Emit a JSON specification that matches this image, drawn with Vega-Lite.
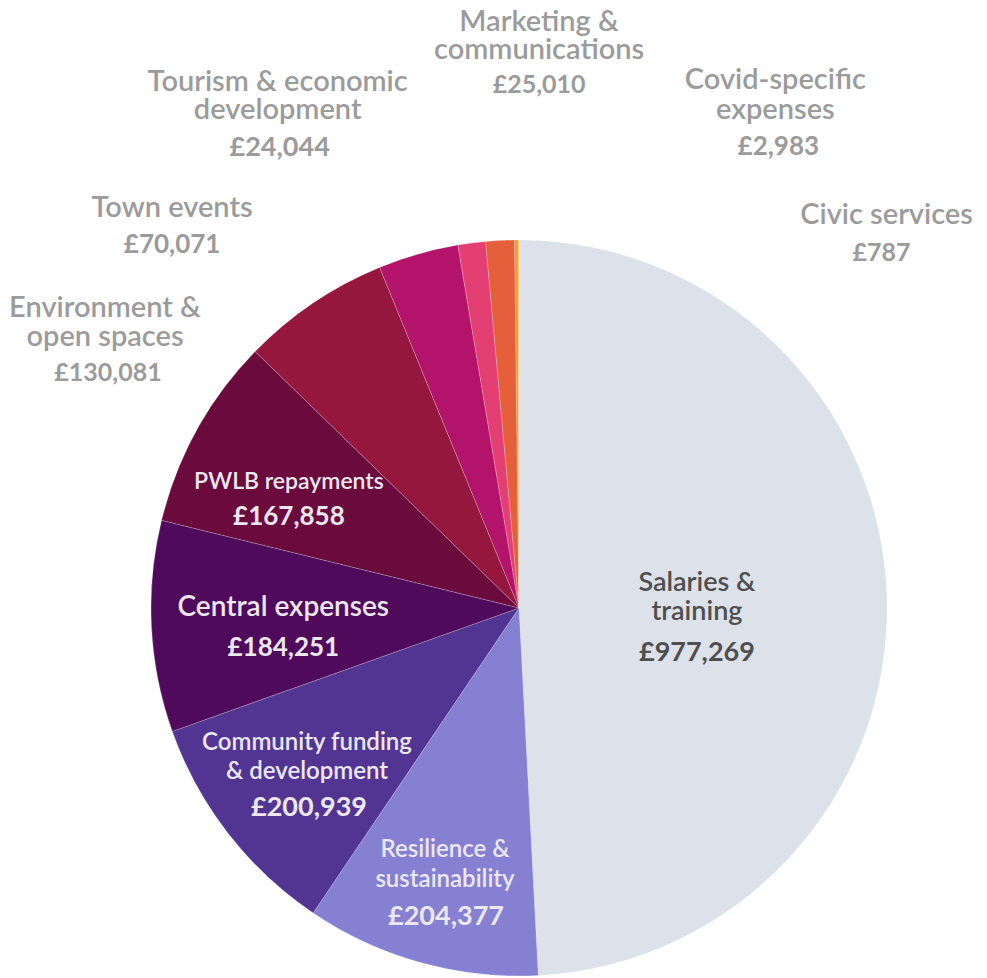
{
  "$schema": "https://vega.github.io/schema/vega-lite/v6.json",
  "autosize": {"type": "none"},
  "width": 934,
  "height": 740,
  "padding": {"left": 52, "top": 238, "right": 1, "bottom": 0},
  "background": "#ffffff",
  "config": {
    "view": {"stroke": null},
    "locale": {"number": {"decimal": ".", "thousands": ",", "grouping": [3], "currency": ["£", ""]}},
    "text": {"font": "Lato", "align": "center", "baseline": "middle"}
  },
  "data": {"values": [
    {"i": 1, "cat": "Salaries & training", "name": ["Salaries &", "training"], "value": 977269},
    {"i": 2, "cat": "Resilience & sustainability", "name": ["Resilience &", "sustainability"], "value": 204377},
    {"i": 3, "cat": "Community funding & development", "name": ["Community funding", "& development"], "value": 200939},
    {"i": 4, "cat": "Central expenses", "name": ["Central expenses"], "value": 184251},
    {"i": 5, "cat": "PWLB repayments", "name": ["PWLB repayments"], "value": 167858},
    {"i": 6, "cat": "Environment & open spaces", "name": ["Environment &", "open spaces"], "value": 130081},
    {"i": 7, "cat": "Town events", "name": ["Town events"], "value": 70071},
    {"i": 8, "cat": "Tourism & economic development", "name": ["Tourism & economic", "development"], "value": 24044},
    {"i": 9, "cat": "Marketing & communications", "name": ["Marketing &", "communications"], "value": 25010},
    {"i": 10, "cat": "Covid-specific expenses", "name": ["Covid-specific", "expenses"], "value": 2983},
    {"i": 11, "cat": "Civic services", "name": ["Civic services"], "value": 787}
  ]},
  "encoding": {
    "theta": {"field": "value", "type": "quantitative", "stack": true},
    "order": {"field": "i", "type": "quantitative"},
    "detail": {"field": "cat", "type": "nominal"}
  },
  "layer": [
    {"mark": {"type": "arc", "outerRadius": 368, "stroke": "#ffffff", "strokeWidth": 0.4, "strokeOpacity": 0.5},
     "encoding": {"color": {"field": "cat", "type": "nominal", "legend": null,
       "scale": {"domain": ["Salaries & training", "Resilience & sustainability", "Community funding & development", "Central expenses", "PWLB repayments", "Environment & open spaces", "Town events", "Tourism & economic development", "Marketing & communications", "Covid-specific expenses", "Civic services"],
                 "range": ["#DCE1EA", "#8580D2", "#523492", "#500A5C", "#6B0A3C", "#95173D", "#B3136A", "#E33F72", "#E5603A", "#EC9A38", "#F3B33D"]}}}},

    {"mark": {"type": "text", "radius": 178, "dy": -20, "fontSize": 27, "fontWeight": 600, "lineHeight": 29, "color": "#4f4f4f"},
     "encoding": {"text": {"condition": {"test": "datum.i === 1", "field": "name", "type": "nominal"}, "value": ""}}},
    {"mark": {"type": "text", "radius": 178, "dy": 50, "fontSize": 27, "fontWeight": "bold", "color": "#4f4f4f"},
     "encoding": {"text": {"condition": {"test": "datum.i === 1", "field": "value", "type": "quantitative", "format": "$,"}, "value": ""}}},

    {"mark": {"type": "text", "radius": 273, "dx": -1, "dy": -21, "fontSize": 24, "fontWeight": 600, "lineHeight": 30, "color": "#ECE8F2"},
     "encoding": {"text": {"condition": {"test": "datum.i === 2", "field": "name", "type": "nominal"}, "value": ""}}},
    {"mark": {"type": "text", "radius": 273, "dy": 46, "fontSize": 27, "fontWeight": "bold", "color": "#ECE8F2"},
     "encoding": {"text": {"condition": {"test": "datum.i === 2", "field": "value", "type": "quantitative", "format": "$,"}, "value": ""}}},

    {"mark": {"type": "text", "radius": 267, "dx": -1, "dy": -29, "fontSize": 24, "fontWeight": 600, "lineHeight": 29, "color": "#ECE8F2"},
     "encoding": {"text": {"condition": {"test": "datum.i === 3", "field": "name", "type": "nominal"}, "value": ""}}},
    {"mark": {"type": "text", "radius": 267, "dx": 1, "dy": 36, "fontSize": 27, "fontWeight": "bold", "color": "#ECE8F2"},
     "encoding": {"text": {"condition": {"test": "datum.i === 3", "field": "value", "type": "quantitative", "format": "$,"}, "value": ""}}},

    {"mark": {"type": "text", "radius": 236, "dy": -12, "fontSize": 28, "fontWeight": 600, "color": "#ECE8F2"},
     "encoding": {"text": {"condition": {"test": "datum.i === 4", "field": "name", "type": "nominal"}, "value": ""}}},
    {"mark": {"type": "text", "radius": 236, "dy": 28, "fontSize": 26, "fontWeight": "bold", "color": "#ECE8F2"},
     "encoding": {"text": {"condition": {"test": "datum.i === 4", "field": "value", "type": "quantitative", "format": "$,"}, "value": ""}}},

    {"mark": {"type": "text", "radius": 263, "dy": 1, "fontSize": 23, "fontWeight": 600, "color": "#ECE8F2"},
     "encoding": {"text": {"condition": {"test": "datum.i === 5", "field": "name", "type": "nominal"}, "value": ""}}},
    {"mark": {"type": "text", "radius": 263, "dy": 36, "fontSize": 26, "fontWeight": "bold", "color": "#ECE8F2"},
     "encoding": {"text": {"condition": {"test": "datum.i === 5", "field": "value", "type": "quantitative", "format": "$,"}, "value": ""}}},

    {"mark": {"type": "text", "radius": 368, "dx": -208, "dy": 5, "fontSize": 29, "fontWeight": 600, "lineHeight": 29, "color": "#9B9B9B"},
     "encoding": {"text": {"condition": {"test": "datum.i === 6", "field": "name", "type": "nominal"}, "value": ""}}},
    {"mark": {"type": "text", "radius": 368, "dx": -205, "dy": 70, "fontSize": 25, "fontWeight": "bold", "color": "#9B9B9B"},
     "encoding": {"text": {"condition": {"test": "datum.i === 6", "field": "value", "type": "quantitative", "format": "$,"}, "value": ""}}},

    {"mark": {"type": "text", "radius": 368, "dx": -246, "dy": -46, "fontSize": 29, "fontWeight": 600, "color": "#9B9B9B"},
     "encoding": {"text": {"condition": {"test": "datum.i === 7", "field": "name", "type": "nominal"}, "value": ""}}},
    {"mark": {"type": "text", "radius": 368, "dx": -246, "dy": -9, "fontSize": 26, "fontWeight": "bold", "color": "#9B9B9B"},
     "encoding": {"text": {"condition": {"test": "datum.i === 7", "field": "value", "type": "quantitative", "format": "$,"}, "value": ""}}},

    {"mark": {"type": "text", "radius": 368, "dx": -194, "dy": -161, "fontSize": 29, "fontWeight": 600, "lineHeight": 28, "color": "#9B9B9B"},
     "encoding": {"text": {"condition": {"test": "datum.i === 8", "field": "name", "type": "nominal"}, "value": ""}}},
    {"mark": {"type": "text", "radius": 368, "dx": -192, "dy": -95, "fontSize": 27, "fontWeight": "bold", "color": "#9B9B9B"},
     "encoding": {"text": {"condition": {"test": "datum.i === 8", "field": "value", "type": "quantitative", "format": "$,"}, "value": ""}}},

    {"mark": {"type": "text", "radius": 368, "dx": 39, "dy": -218, "fontSize": 29, "fontWeight": 600, "lineHeight": 28, "color": "#9B9B9B"},
     "encoding": {"text": {"condition": {"test": "datum.i === 9", "field": "name", "type": "nominal"}, "value": ""}}},
    {"mark": {"type": "text", "radius": 368, "dx": 39, "dy": -155, "fontSize": 25, "fontWeight": "bold", "color": "#9B9B9B"},
     "encoding": {"text": {"condition": {"test": "datum.i === 9", "field": "value", "type": "quantitative", "format": "$,"}, "value": ""}}},

    {"mark": {"type": "text", "radius": 368, "dx": 259, "dy": -160, "fontSize": 29, "fontWeight": 600, "lineHeight": 30, "color": "#9B9B9B"},
     "encoding": {"text": {"condition": {"test": "datum.i === 10", "field": "name", "type": "nominal"}, "value": ""}}},
    {"mark": {"type": "text", "radius": 368, "dx": 262, "dy": -93, "fontSize": 26, "fontWeight": "bold", "color": "#9B9B9B"},
     "encoding": {"text": {"condition": {"test": "datum.i === 10", "field": "value", "type": "quantitative", "format": "$,"}, "value": ""}}},

    {"mark": {"type": "text", "radius": 368, "dx": 368, "dy": -25, "fontSize": 29, "fontWeight": 600, "color": "#9B9B9B"},
     "encoding": {"text": {"condition": {"test": "datum.i === 11", "field": "name", "type": "nominal"}, "value": ""}}},
    {"mark": {"type": "text", "radius": 368, "dx": 363, "dy": 13, "fontSize": 25, "fontWeight": "bold", "color": "#9B9B9B"},
     "encoding": {"text": {"condition": {"test": "datum.i === 11", "field": "value", "type": "quantitative", "format": "$,"}, "value": ""}}}
  ]
}
